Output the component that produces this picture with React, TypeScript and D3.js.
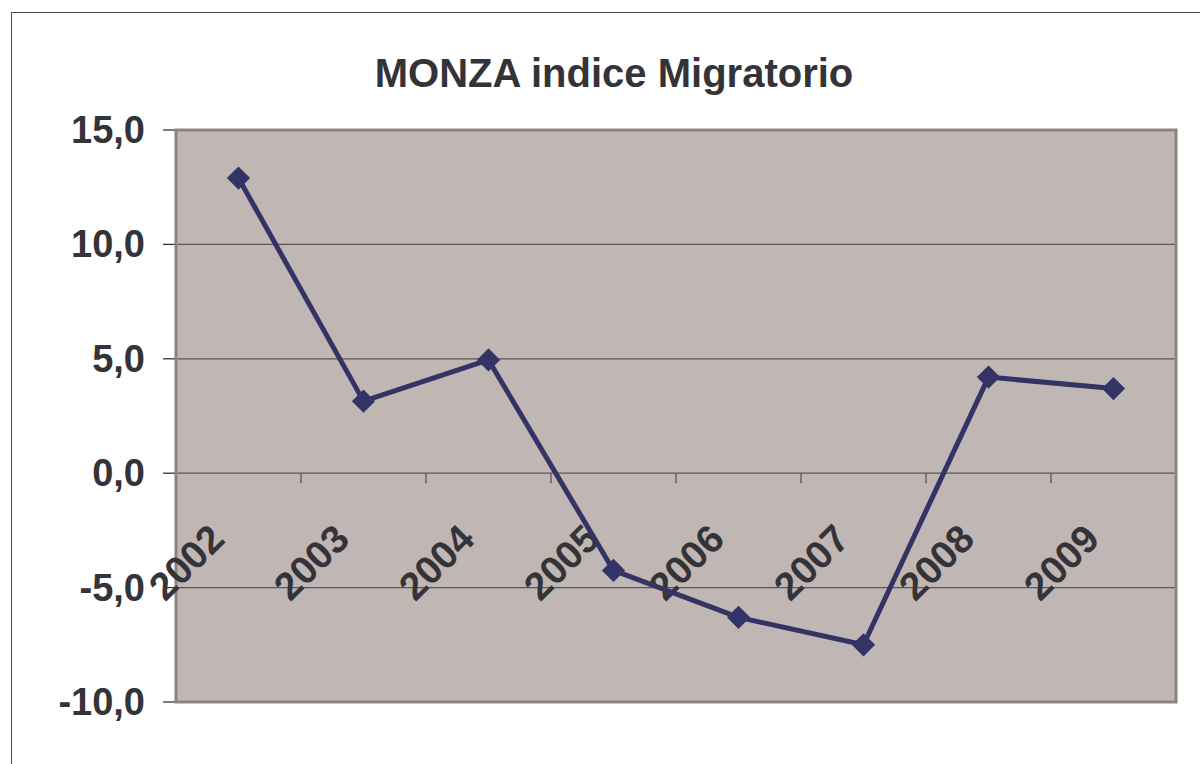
import React from 'react';
import * as d3 from 'd3';

const years = ['2002', '2003', '2004', '2005', '2006', '2007', '2008', '2009'];
const values = [12.9, 3.15, 4.95, -4.25, -6.3, -7.5, 4.2, 3.7];
const yTicks = [-10, -5, 0, 5, 10, 15];

const W = 1200;
const H = 764;
const plot = { left: 176, right: 1176, top: 130, bottom: 702 };
const textColor = '#333338';
const font = '"Liberation Sans", Arial, sans-serif';

const App: React.FC = () => {
  const x = d3.scaleBand<string>().domain(years).range([plot.left, plot.right]);
  const y = d3.scaleLinear().domain([-10, 15]).range([plot.bottom, plot.top]);
  const cx = (d: string) => (x(d) ?? 0) + x.bandwidth() / 2;
  const fmt = (v: number) => v.toFixed(1).replace('.', ',');

  const line = d3
    .line<number>()
    .x((_, i) => cx(years[i]))
    .y((d) => y(d));

  const zeroY = y(0);
  const diamond = d3.symbol(d3.symbolSquare, 270)();

  return (
    <svg
      width={W}
      height={H}
      style={{ position: 'fixed', left: 0, top: 0, background: '#fff' }}
      fontFamily={font}
    >
      <rect x={11.5} y={12.5} width={1230} height={800} fill="#fff" stroke="#4a4a4a" strokeWidth={1} />
      <text x={614} y={87} textAnchor="middle" fontSize={40} fontWeight="bold" fill={textColor}>
        MONZA indice Migratorio
      </text>

      <rect
        x={plot.left}
        y={plot.top}
        width={plot.right - plot.left}
        height={plot.bottom - plot.top}
        fill="#c0b7b4"
      />

      {yTicks.map((t) => (
        <g key={t}>
          {t > -10 && t < 15 && (
            <line x1={plot.left} x2={plot.right} y1={y(t)} y2={y(t)} stroke="#5a5454" strokeWidth={1.3} />
          )}
          <line x1={163} x2={plot.left} y1={y(t)} y2={y(t)} stroke="#333" strokeWidth={1.3} />
          <text x={145} y={y(t) + 13} textAnchor="end" fontSize={38} fontWeight="bold" fill={textColor}>
            {fmt(t)}
          </text>
        </g>
      ))}

      {years.map((yr) => (
        <line
          key={'tk' + yr}
          x1={(x(yr) ?? 0) + x.bandwidth()}
          x2={(x(yr) ?? 0) + x.bandwidth()}
          y1={zeroY}
          y2={zeroY + 10}
          stroke="#5a5454"
          strokeWidth={1.3}
        />
      ))}

      <rect
        x={plot.left}
        y={plot.top}
        width={plot.right - plot.left}
        height={plot.bottom - plot.top}
        fill="none"
        stroke="#8c8380"
        strokeWidth={3}
      />

      {years.map((yr) => (
        <text
          key={'lb' + yr}
          transform={`translate(${cx(yr) - 12},${zeroY + 68}) rotate(-45)`}
          textAnchor="end"
          fontSize={39}
          fontWeight="bold"
          fill={textColor}
        >
          {yr}
        </text>
      ))}

      <path d={line(values) ?? ''} fill="none" stroke="#333366" strokeWidth={5} strokeLinejoin="round" />
      {values.map((v, i) => (
        <path
          key={'m' + i}
          d={diamond ?? ''}
          transform={`translate(${cx(years[i])},${y(v)}) rotate(45)`}
          fill="#333366"
        />
      ))}
    </svg>
  );
};

export default App;
